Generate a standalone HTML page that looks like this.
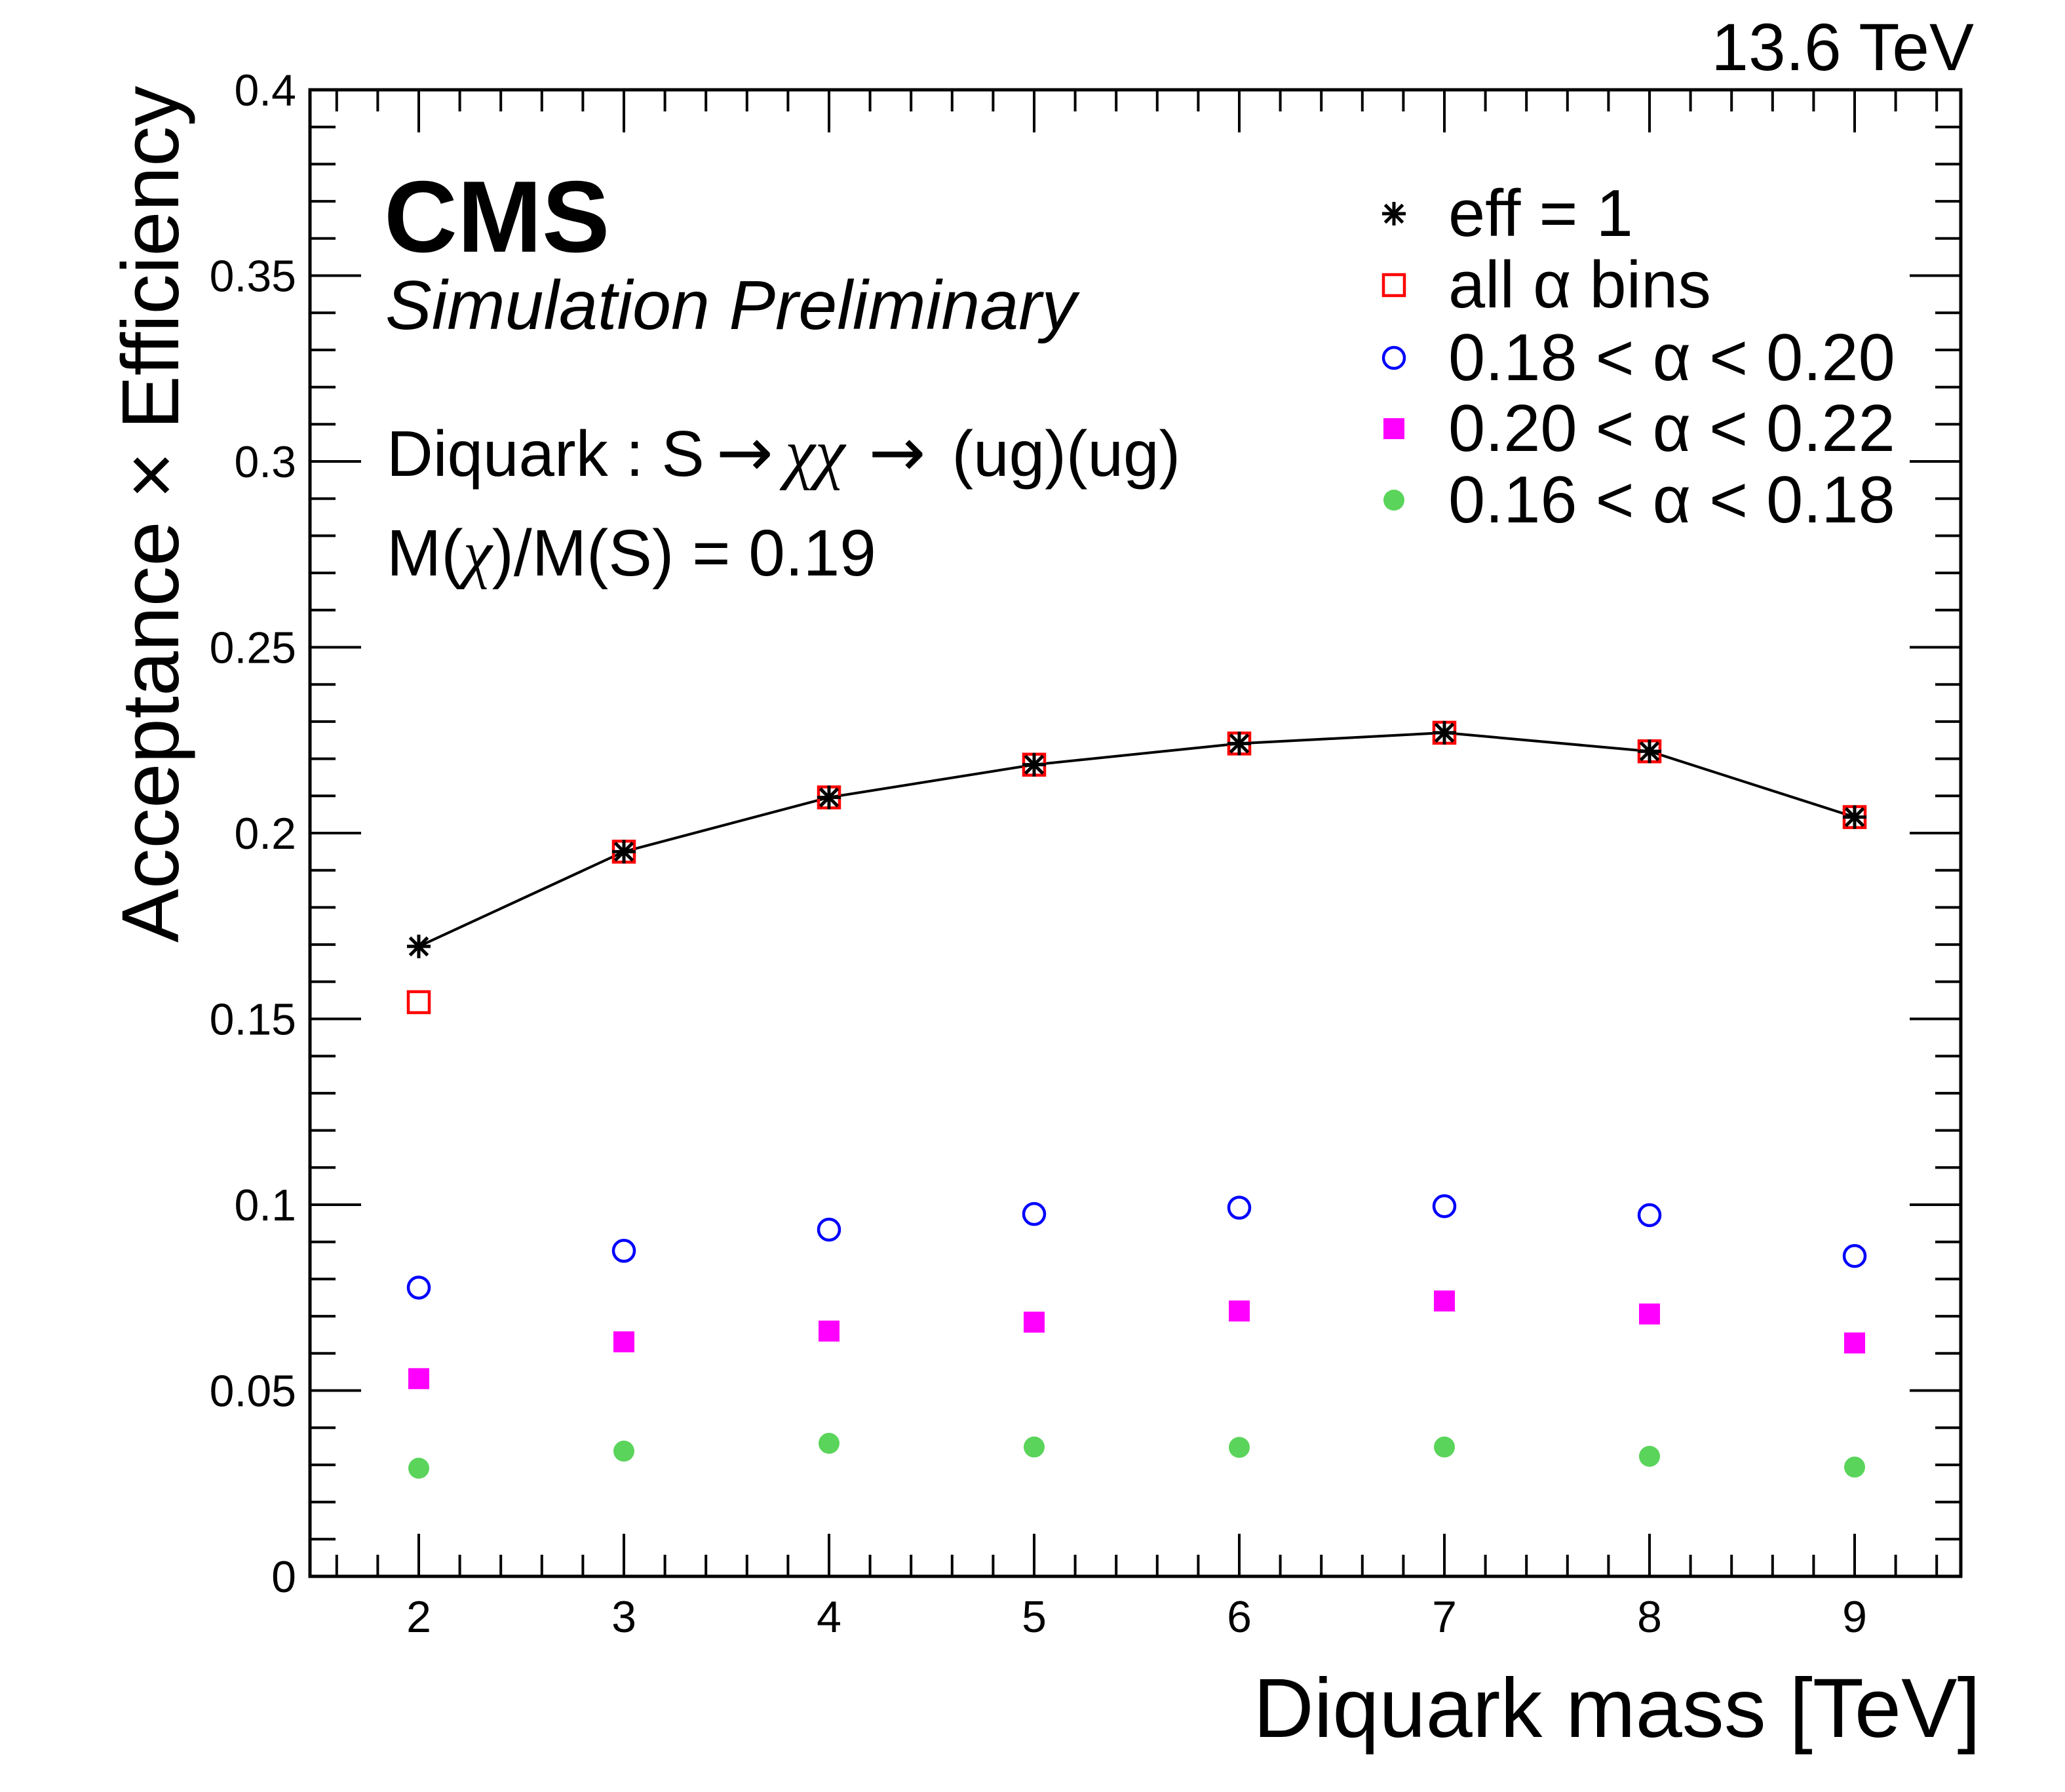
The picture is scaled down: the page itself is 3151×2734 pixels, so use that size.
<!DOCTYPE html>
<html><head><meta charset="utf-8"><style>
html,body{margin:0;padding:0;background:#fff;}
svg{display:block;font-family:"Liberation Sans",sans-serif;}
</style></head><body>
<svg id="chart" width="3151" height="2734" viewBox="0 0 3151 2734" xmlns="http://www.w3.org/2000/svg">
<rect width="3151" height="2734" fill="#fff"/>
<g id="ticks"></g>
<g id="marks"></g>
<rect x="473" y="137" width="2519" height="2268" fill="none" stroke="#000" stroke-width="5"/>
<text x="3012" y="107" font-size="102" text-anchor="end">13.6 TeV</text>
<text x="586" y="384" font-size="155" font-weight="bold">CMS</text>
<text x="588" y="502" font-size="106" font-style="italic">Simulation Preliminary</text>
<text x="590" y="726" font-size="98">Diquark : S<tspan dx="18" font-family="DejaVu Sans" font-size="104">→</tspan><tspan dx="18" font-family="Liberation Serif" font-style="italic" font-size="104">χχ</tspan><tspan dx="36" font-family="DejaVu Sans" font-size="104">→</tspan><tspan dx="40">(ug)(ug)</tspan></text>
<text x="590" y="878" font-size="100">M(<tspan font-family="Liberation Serif" font-style="italic">χ</tspan>)/M(S) = 0.19</text>
<text x="3022" y="2650" font-size="128" text-anchor="end">Diquark mass [TeV]</text>
<text transform="translate(272,131) rotate(-90)" font-size="123" text-anchor="end">Acceptance × Efficiency</text>
<g id="legend"></g>
</svg>
<script>
const masses = [2,3,4,5,6,7,8,9];
const effOne = [0.1695,0.195,0.2096,0.2184,0.2241,0.227,0.222,0.2043];
const allBins = [0.1545,0.195,0.2096,0.2184,0.2241,0.227,0.222,0.2043];
const bin18to20 = [0.0777,0.0876,0.0933,0.0975,0.0992,0.0996,0.0972,0.0862];
const bin20to22 = [0.0532,0.0631,0.066,0.0684,0.0714,0.0741,0.0706,0.0628];
const bin16to18 = [0.0291,0.0337,0.0358,0.0348,0.0347,0.0348,0.0323,0.0294];
const yTickValues = [0,0.05,0.1,0.15,0.2,0.25,0.3,0.35,0.4];
const yTickLabels = ["0","0.05","0.1","0.15","0.2","0.25","0.3","0.35","0.4"];
const xTickValues = [2,3,4,5,6,7,8,9];
const xTickLabels = ["2","3","4","5","6","7","8","9"];
const legendLabels = ["eff = 1","all α bins","0.18 < α < 0.20","0.20 < α < 0.22","0.16 < α < 0.18"];

const NS="http://www.w3.org/2000/svg";
const X0=473,X1=2992,Y0=2405,Y1=137;
function sx(v){return 639+(v-2)*313;}
function sy(v){return Y0-(v/0.4)*(Y0-Y1);}
function mk(tag,attrs,parent){const e=document.createElementNS(NS,tag);for(const k in attrs)e.setAttribute(k,attrs[k]);parent.appendChild(e);return e;}
const ticks=document.getElementById('ticks');
const marks=document.getElementById('marks');
const legend=document.getElementById('legend');

for(let i=0;i<=40;i++){
  const v=i*0.01,y=sy(v),major=(i%5===0),L=major?78:39;
  let t=mk('line',{x1:X0,x2:X0+L,y1:y,y2:y,stroke:'#000','stroke-width':4},ticks);
  
  
  t=mk('line',{x1:X1,x2:X1-L,y1:y,y2:y,stroke:'#000','stroke-width':4},ticks);
  
  
}
yTickValues.forEach((v,i)=>{
  const t=mk('text',{x:452,y:sy(v)+24,'font-size':68,'text-anchor':'end'},ticks);
  t.textContent=yTickLabels[i];
  
  
});
for(let v=1.6;v<9.5;v+=0.2){
  const x=sx(v);if(x<=X0+2||x>=X1-2)continue;
  const major=Math.abs(v-Math.round(v))<0.01,L=major?65:33;
  let t=mk('line',{x1:x,x2:x,y1:Y0,y2:Y0-L,stroke:'#000','stroke-width':4},ticks);
  
  
  t=mk('line',{x1:x,x2:x,y1:Y1,y2:Y1+L,stroke:'#000','stroke-width':4},ticks);
  
  
}
xTickValues.forEach((v,i)=>{
  const t=mk('text',{x:sx(v),y:2490,'font-size':68,'text-anchor':'middle'},ticks);
  t.textContent=xTickLabels[i];
  
  
});

function star(x,y,parent){
  const g=mk('g',{stroke:'#000','stroke-width':5},parent);
  const r=18;
  mk('line',{x1:x,x2:x,y1:y-r,y2:y+r},g);
  mk('line',{x1:x-r,x2:x+r,y1:y,y2:y},g);
  mk('line',{x1:x-r*0.75,x2:x+r*0.75,y1:y-r*0.75,y2:y+r*0.75},g);
  mk('line',{x1:x-r*0.75,x2:x+r*0.75,y1:y+r*0.75,y2:y-r*0.75},g);
  return g;
}
function openSq(x,y,p){return mk('rect',{x:x-16,y:y-16,width:32,height:32,fill:'none',stroke:'#f00','stroke-width':4.5},p);}
function openCirc(x,y,p){return mk('circle',{cx:x,cy:y,r:16,fill:'none',stroke:'#00f','stroke-width':4.5},p);}
function fullSq(x,y,p){return mk('rect',{x:x-16,y:y-16,width:32,height:32,fill:'#f0f'},p);}
function fullCirc(x,y,p){return mk('circle',{cx:x,cy:y,r:16,fill:'#5ad45a'},p);}

const pts=masses.map((m,i)=>sx(m)+','+sy(effOne[i])).join(' ');
const pl=mk('polyline',{points:pts,fill:'none',stroke:'#000','stroke-width':4},marks);



masses.forEach((m,i)=>{
  let e=fullCirc(sx(m),sy(bin16to18[i]),marks);
  
  
  e=fullSq(sx(m),sy(bin20to22[i]),marks);
  
  
  e=openCirc(sx(m),sy(bin18to20[i]),marks);
  
  
  e=openSq(sx(m),sy(allBins[i]),marks);
  
  
  e=star(sx(m),sy(effOne[i]),marks);
  
  
});

const markerFns=[star,openSq,openCirc,fullSq,fullCirc];
const legY=[326,435,546,654,763];
legendLabels.forEach((lab,i)=>{
  const m=markerFns[i](2127,legY[i],legend);
  
  
  const t=mk('text',{x:2210,y:legY[i]+34,'font-size':101},legend);
  t.textContent=lab;
  
  
});
</script>
</body></html>
